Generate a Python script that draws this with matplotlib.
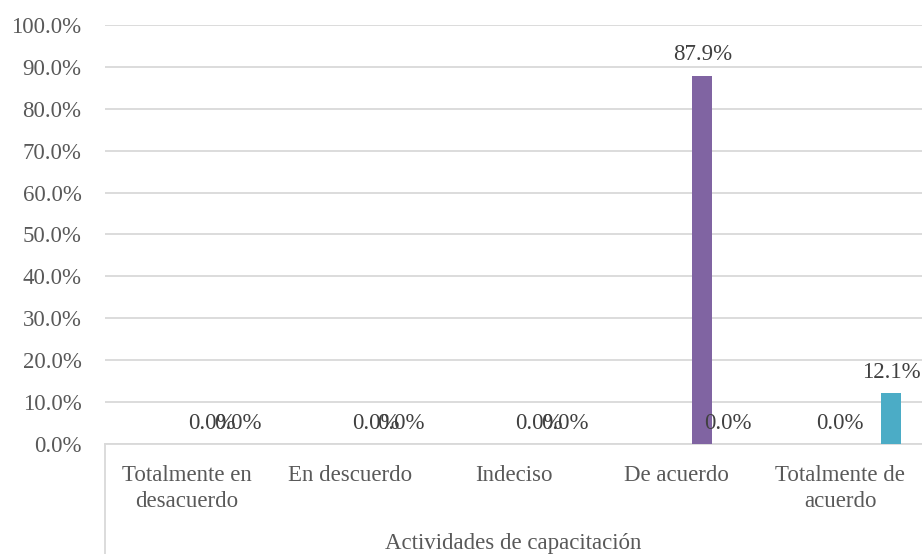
import numpy as np
import matplotlib
matplotlib.use("Agg")
import matplotlib.pyplot as plt
from matplotlib.lines import Line2D

# Data #
categories = ['Totalmente en\ndesacuerdo', 'En descuerdo', 'Indeciso',
              'De acuerdo', 'Totalmente de\nacuerdo']
serie_c = [np.nan, np.nan, np.nan, np.nan, 0.0]   # centre slot, only last group
serie_a = [0.0, 0.0, 0.0, 87.9, np.nan]           # purple
serie_b = [0.0, 0.0, 0.0, 0.0, 12.1]              # teal
x_title = 'Actividades de capacitación'

plt.rcParams['font.family'] = ['Liberation Serif', 'DejaVu Serif']
txt_col = '#595959'
grid_col = '#D9D9D9'
fs = 16.5

fig = plt.figure(figsize=(9.22, 5.54), dpi=100)
ax = fig.add_axes([0.1139, 0.1986, 0.886, 0.7563])

x = np.arange(len(categories))
bw = 0.1224
step = 0.156

series = [(serie_c, 0, '#9BBB59'), (serie_a, 1, '#8064A2'), (serie_b, 2, '#4BACC6')]
for vals, k, col in series:
    vals = np.array(vals, dtype=float)
    xs = x + k * step
    ok = ~np.isnan(vals)
    ax.bar(xs[ok], vals[ok], width=bw, color=col, zorder=3)
    for xi, v in zip(xs[ok], vals[ok]):
        ax.annotate(f'{v:.1f}%', (xi, v), xytext=(0, 15), textcoords='offset points',
                    ha='center', va='center', fontsize=fs, color='#404040', zorder=4)

ax.set_xlim(-0.5, 4.5)
ax.set_ylim(0, 100)
ax.set_yticks(np.arange(0, 101, 10))
ax.set_yticklabels([f'{t:.1f}%' for t in range(0, 101, 10)])
ax.set_xticks(x)
ax.set_xticklabels(categories, linespacing=1.3)
ax.tick_params(axis='y', length=0, pad=17, labelsize=fs, labelcolor=txt_col)
ax.tick_params(axis='x', length=0, pad=15, labelsize=fs, labelcolor=txt_col)
ax.grid(axis='y', color=grid_col, linewidth=1.3, zorder=0)
for s in ['top', 'right', 'left']:
    ax.spines[s].set_visible(False)
ax.spines['bottom'].set_color(grid_col)
ax.spines['bottom'].set_linewidth(1.3)

# outer category level
fig.add_artist(Line2D([0.1139, 0.1139], [0, 0.1986], color=grid_col, linewidth=1.3))
fig.text(513.5 / 922, 1 - 543 / 554, x_title, ha='center', va='center',
         fontsize=fs, color=txt_col)

fig.savefig('out.png', dpi=100)
